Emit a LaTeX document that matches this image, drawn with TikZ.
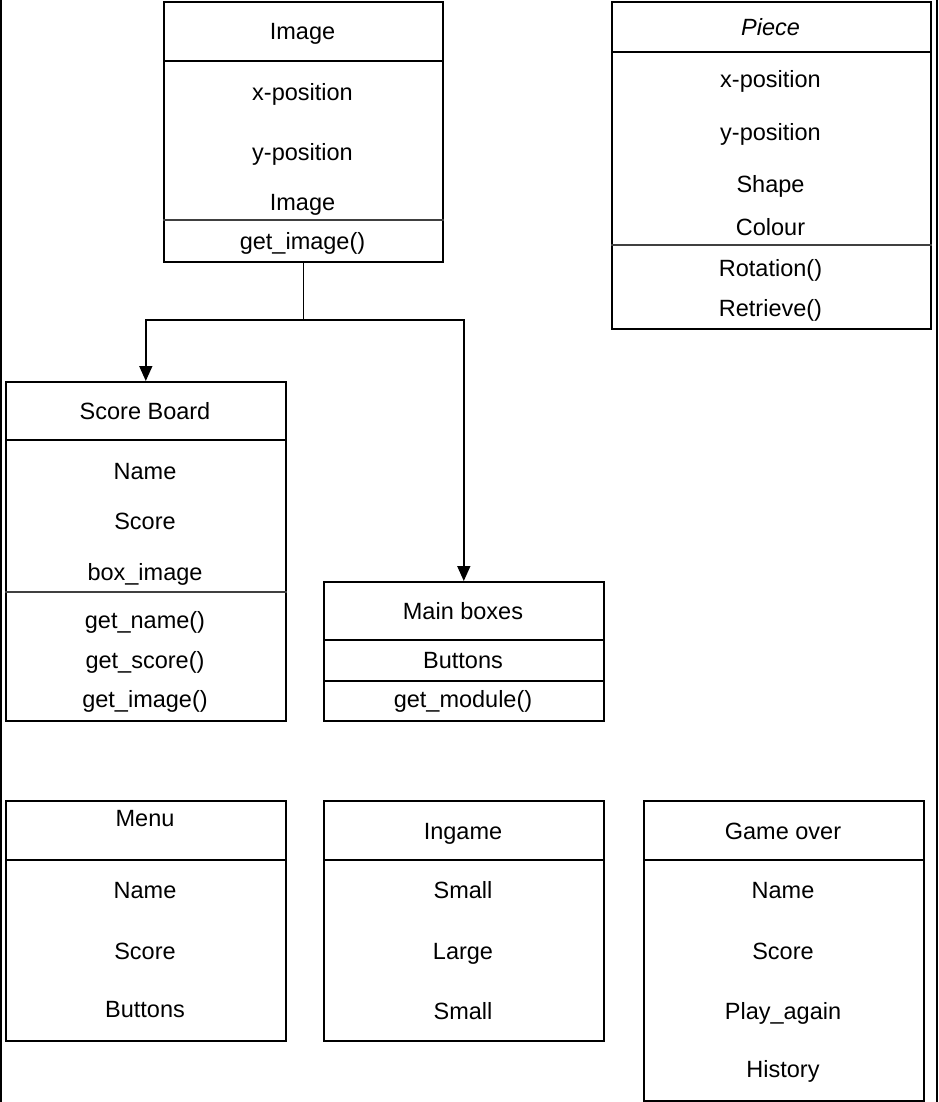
\documentclass[tikz,border=0pt]{standalone}
\usepackage{fontspec}
\setmainfont{Liberation Sans}
\usetikzlibrary{arrows.meta}

\begin{document}
\begin{tikzpicture}[x=1pt, y=-1pt,
    classbox/.style={rectangle, draw, line width=1.6pt, anchor=north west, inner sep=0pt},
    item/.style={font=\fontsize{23.5}{28}\selectfont, inner sep=0pt, text height=16.8pt, text depth=0pt},
    sep/.style={line width=1.6pt},
    arrow/.style={-{Triangle[length=15pt, width=13pt]}, line width=1.6pt},
]
\useasboundingbox (0,0) rectangle (938,1102);

% page frame (left and right edges)
\draw[sep] (1,0) -- (1,1102);
\draw[sep] (937,0) -- (937,1102);

% Class boxes
\node[classbox, minimum width=279pt, minimum height=260pt] (image) at (163,1) {};
\node[classbox, minimum width=319pt, minimum height=327pt] (piece) at (611,1) {};
\node[classbox, minimum width=280pt, minimum height=339pt] (score) at (5,381) {};
\node[classbox, minimum width=280pt, minimum height=139pt] (mainbox) at (323,581) {};
\node[classbox, minimum width=280pt, minimum height=240pt] (menu) at (5,800) {};
\node[classbox, minimum width=280pt, minimum height=240pt] (ingame) at (323,800) {};
\node[classbox, minimum width=280pt, minimum height=300pt] (gameover) at (643,800) {};

% Compartment lines
\draw[sep] (image.west |- 0,61) -- (image.east |- 0,61);
\draw[sep, black!75] (image.west |- 0,220) -- (image.east |- 0,220);
\draw[sep] (piece.west |- 0,52) -- (piece.east |- 0,52);
\draw[sep, black!75] (piece.west |- 0,245) -- (piece.east |- 0,245);
\draw[sep] (score.west |- 0,440) -- (score.east |- 0,440);
\draw[sep, black!75] (score.west |- 0,592) -- (score.east |- 0,592);
\draw[sep] (mainbox.west |- 0,640) -- (mainbox.east |- 0,640);
\draw[sep] (mainbox.west |- 0,681) -- (mainbox.east |- 0,681);
\draw[sep] (menu.west |- 0,860) -- (menu.east |- 0,860);
\draw[sep] (ingame.west |- 0,860) -- (ingame.east |- 0,860);
\draw[sep] (gameover.west |- 0,860) -- (gameover.east |- 0,860);

% Image
\node[item] (image-t) at (302.5,31) {Image};
\foreach \t/\y [count=\i] in {x-position/92, y-position/152, Image/202, get\_image()/241}
  \node[item] (image-\i) at (302.5,\y) {\t};

% Piece
\node[item, font=\fontsize{23.5}{28}\selectfont\itshape] (piece-t) at (770.5,27) {Piece};
\foreach \t/\y [count=\i] in {x-position/79, y-position/132, Shape/184, Colour/227, Rotation()/268, Retrieve()/308}
  \node[item] (piece-\i) at (770.5,\y) {\t};

% Score Board
\node[item] (score-t) at (145,411) {Score Board};
\foreach \t/\y [count=\i] in {Name/471, Score/521, box\_image/572, get\_name()/620, get\_score()/660, get\_image()/699}
  \node[item] (score-\i) at (145,\y) {\t};

% Main boxes
\node[item] (mainbox-t) at (463,611) {Main boxes};
\node[item] (mainbox-1) at (463,660) {Buttons};
\node[item] (mainbox-2) at (463,699) {get\_module()};

% Menu / Ingame / Game over
\node[item] (menu-t) at (145,818) {Menu};
\foreach \t/\y [count=\i] in {Name/890, Score/951, Buttons/1009}
  \node[item] (menu-\i) at (145,\y) {\t};

\node[item] (ingame-t) at (463,831) {Ingame};
\foreach \t/\y [count=\i] in {Small/890, Large/951, Small/1011}
  \node[item] (ingame-\i) at (463,\y) {\t};

\node[item] (gameover-t) at (783,831) {Game over};
\foreach \t/\y [count=\i] in {Name/890, Score/951, Play\_again/1011, History/1069}
  \node[item] (gameover-\i) at (783,\y) {\t};

% Arrows from Image
\coordinate (split) at (image.south |- 0,320);
\draw[arrow] (image.south) -- (split) -| (score.north);
\draw[arrow] (split) -| (mainbox.north);

\end{tikzpicture}
\end{document}
